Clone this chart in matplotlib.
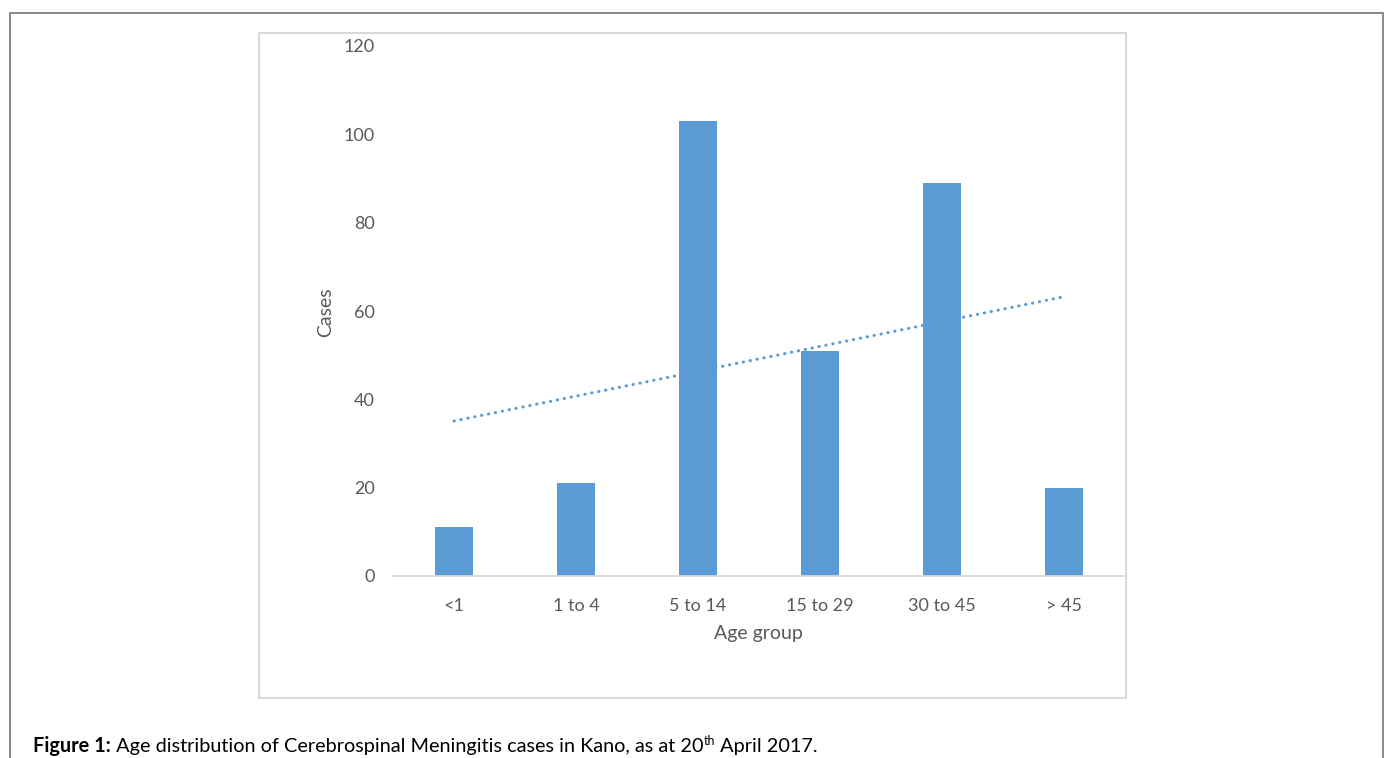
#!/usr/bin/env python3

import numpy as np
import matplotlib
matplotlib.use('Agg')
import matplotlib.pyplot as plt
from matplotlib.patches import Rectangle

# Data
age_groups = ['<1', '1 to 4', '5 to 14', '15 to 29', '30 to 45', '> 45']
cases = [11, 21, 103, 51, 89, 20]
y_ticks = [0, 20, 40, 60, 80, 100, 120]

BAR_COLOR = '#5B9BD5'
TEXT_COLOR = '#595959'
W, H = 1389, 758

plt.rcParams['font.family'] = ['Lato', 'DejaVu Sans']

fig = plt.figure(figsize=(W / 100, H / 100), dpi=100)


def px(x, y):
    '''Pixel position (from top-left) to figure fraction.'''
    return x / W, 1 - y / H


# Outer frame and chart border
x0, y0 = px(10, 790)
fig.patches.append(Rectangle((x0, y0), 1373 / W, 777 / H, transform=fig.transFigure,
                             fill=False, edgecolor='#7f7f7f', linewidth=1.3))
x0, y0 = px(259, 698)
fig.patches.append(Rectangle((x0, y0), 867 / W, 665 / H, transform=fig.transFigure,
                             fill=False, edgecolor='#d9d9d9', linewidth=1.5))

# Plot area
ax = fig.add_axes([393 / W, 1 - 576 / H, 732 / W, 530 / H])
x = np.arange(len(age_groups))
ax.bar(x, cases, width=0.31, color=BAR_COLOR, zorder=2)

# Linear trendline fitted to the bars
slope, intercept = np.polyfit(x, cases, 1)
ax.plot(x, slope * x + intercept, color=BAR_COLOR, linewidth=2.2,
        linestyle=(0, (0.1, 2.2)), dash_capstyle='round', zorder=3)

ax.set_xlim(-0.5, len(age_groups) - 0.5)
ax.set_ylim(0, 120)
ax.set_yticks(y_ticks)
ax.set_xticks(x)
ax.set_xticklabels(age_groups)
ax.tick_params(axis='both', length=0, labelsize=13, colors=TEXT_COLOR)
ax.tick_params(axis='y', pad=13)
ax.tick_params(axis='x', pad=16)
for side in ['top', 'right', 'left']:
    ax.spines[side].set_visible(False)
ax.spines['bottom'].set_color('#d9d9d9')
ax.spines['bottom'].set_linewidth(1.3)

# Axis titles
fig.text(*px(326, 312), 'Cases', rotation=90, ha='center', va='center',
         fontsize=14, color=TEXT_COLOR)
fig.text(*px(758, 634), 'Age group', ha='center', va='center',
         fontsize=14, color=TEXT_COLOR)

# Caption, drawn piece by piece so the superscript sits right
fig.canvas.draw()
renderer = fig.canvas.get_renderer()
pieces = [('Figure 1:', 'bold', 14.3, 0),
          (' Age distribution of Cerebrospinal Meningitis cases in Kano, as at 20', 'normal', 14.3, 0),
          ('th', 'normal', 9, 7),
          (' April 2017.', 'normal', 14.3, 0)]
cx, cy = 33, 752
for txt, weight, size, rise in pieces:
    t = fig.text(cx / W, 1 - (cy - rise) / H, txt, ha='left', va='baseline',
                 fontsize=size, fontweight=weight, color='black')
    bb = t.get_window_extent(renderer)
    cx += bb.width

fig.savefig('out.png', dpi=100)
